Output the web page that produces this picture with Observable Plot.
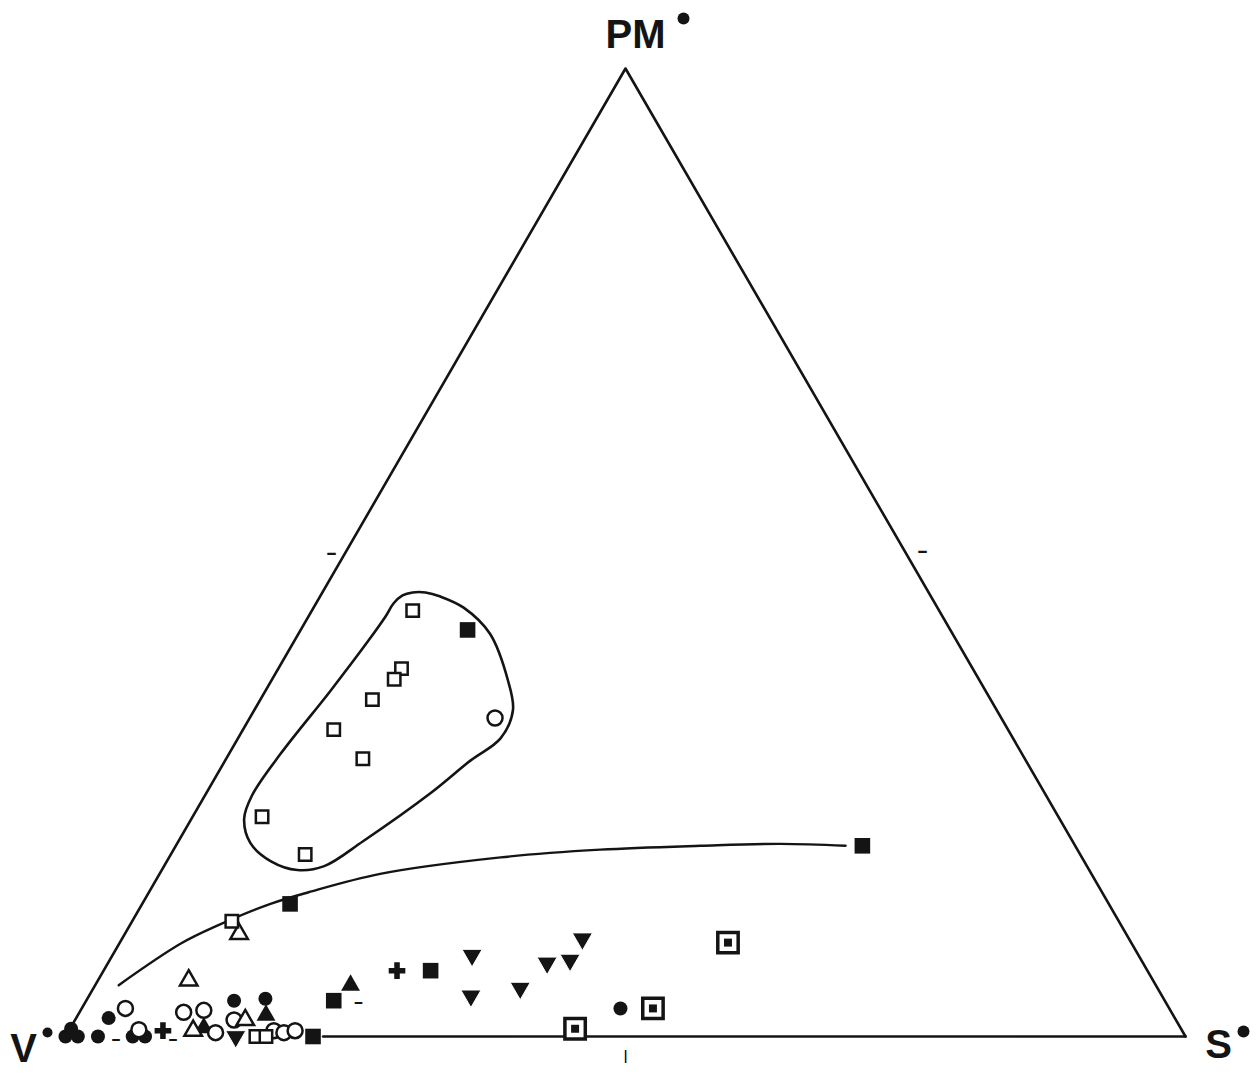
<!DOCTYPE html>
<html><head><meta charset="utf-8">
<script src="https://cdn.jsdelivr.net/npm/d3@7"></script>
<script src="https://cdn.jsdelivr.net/npm/@observablehq/plot@0.6"></script>
<style>body{margin:0;background:#fff}#chart svg{display:block}</style>
</head><body><div id="chart"></div>
<script>
// Ternary compositions, each point is [V, PM, S] in percent
const vertexV = [[100, 0, 0]];
const vertexPM = [[0, 100, 0]];
const vertexS = [[0, 0, 100]];
const vertexLabels = ["V", "PM", "S"];

const openSquares = [
  [47.0, 44.0, 9.0], [51.0, 38.0, 11.0], [52.2, 36.9, 10.9], [55.2, 34.8, 10.0],
  [60.2, 31.7, 8.1], [59.1, 28.7, 12.2], [71.1, 22.7, 6.2], [69.2, 18.8, 12.0],
  [79.2, 11.9, 8.9], [83.0, 0.0, 17.0], [82.1, 0.0, 17.9]
];
const filledSquares = [
  [43.1, 42.0, 14.9], [73.1, 13.7, 13.2], [19.0, 19.7, 61.3],
  [74.2, 3.7, 22.1], [64.0, 6.8, 29.2], [77.9, 0.0, 22.1]
];
const openCircles = [
  [45.2, 32.9, 21.9], [93.2, 2.9, 3.9], [88.2, 2.5, 9.3], [86.3, 2.7, 11.0],
  [86.4, 0.4, 13.2], [84.1, 1.7, 14.2], [81.1, 0.6, 18.3], [80.3, 0.4, 19.3],
  [79.2, 0.6, 20.2], [93.1, 0.7, 6.2]
];
const filledCircles = [
  [100, 0, 0], [98.9, 0, 1.1], [99.1, 0.8, 0.1], [95.2, 1.9, 2.9], [97.1, 0, 2.9],
  [94.0, 0, 6.0], [92.9, 0, 7.1], [83.1, 3.7, 13.2], [80.2, 3.9, 15.9], [49.0, 2.9, 48.1]
];
const openTriangles = [
  [79.2, 10.6, 10.2], [86.1, 5.8, 8.1], [88.3, 0.6, 11.1], [83.1, 1.7, 15.2]
];
const filledTriangles = [
  [87.2, 0.9, 11.9], [81.0, 2.2, 16.8], [71.9, 5.3, 22.8]
];
const invertedTriangles = [
  [84.8, 0, 15.2], [59.5, 8.4, 32.1], [61.7, 4.2, 34.1], [56.9, 5.0, 38.1],
  [53.2, 7.6, 39.2], [51.0, 7.9, 41.1], [48.8, 10.1, 41.1]
];
const crosses = [[91.0, 0.6, 8.4], [67.0, 6.8, 26.2]];
const doubleSquares = [[54.1, 0.8, 45.1], [46.1, 2.9, 51.0], [36.0, 9.7, 54.3]];
const dashes = [[95.5, 0, 4.5], [90.4, 0, 9.6], [71.9, 3.9, 24.2]];

// drawn lines
const baseEdge = [[77, 0, 23], [0, 0, 100]];
const trendCurve = [
  [92.6, 5.3, 2.1], [84.9, 9.6, 5.5], [80.6, 11.5, 7.9], [74.85, 13.7, 11.45],
  [70.85, 14.9, 14.25], [63.5, 16.8, 19.7], [51.9, 18.5, 29.6], [42.6, 19.3, 38.1],
  [33.45, 19.7, 46.85], [26.2, 19.9, 53.9], [20.5, 19.7, 59.8]
];
const envelope = [
  [47.13, 45.56, 7.31], [46.08, 45.87, 8.05], [44.92, 45.87, 9.21], [43.8, 45.45, 10.75],
  [42.3, 44.3, 13.4], [41.2, 41.6, 17.1],
  [42.1, 36.8, 21.1], [43.2, 33.7, 23.1], [45.76, 30.8, 23.44], [49.6, 28.5, 21.9],
  [54.9, 25.1, 20.0], [63.3, 20.2, 16.5], [68.2, 17.6, 14.3], [70.7, 17.2, 12.1],
  [72.7, 18.1, 9.3], [73.5, 20.0, 6.5], [72.8, 22.5, 4.7], [70.9, 24.9, 4.2],
  [66.2, 29.2, 4.6], [58.5, 35.7, 5.8], [52.5, 40.9, 6.6], [49.73, 43.39, 6.88],
  [48.35, 44.73, 6.92]
];
const midTicks = [[50, 50, 0], [0, 50, 50], [50, 0, 50]];

// ternary projection: x = S + PM/2, y = PM
const X = d => d[2] + d[1] / 2;
const Y = d => d[1];
const INK = "#141414";
const lab = {fontFamily: "Liberation Sans, Arial, sans-serif", fontWeight: "bold", fontSize: 40, fill: INK, textAnchor: "middle", lineAnchor: "middle"};

const chart = Plot.plot({
  width: 1260,
  height: 1075,
  marginLeft: 65,
  marginRight: 75,
  marginTop: 68,
  marginBottom: 39,
  x: {domain: [0, 100], axis: null},
  y: {domain: [0, 100], axis: null},
  style: {background: "white", overflow: "visible"},
  marks: [
    Plot.line([vertexV[0], vertexPM[0], vertexS[0]], {x: X, y: Y, stroke: INK, strokeWidth: 2.6}),
    Plot.line(baseEdge, {x: X, y: Y, stroke: INK, strokeWidth: 2.6}),
    Plot.line(envelope, {x: X, y: Y, curve: "catmull-rom-closed", stroke: INK, strokeWidth: 2.6}),
    Plot.line(trendCurve, {x: X, y: Y, curve: "catmull-rom", stroke: INK, strokeWidth: 2.4}),
    Plot.text([midTicks[0]], {x: X, y: Y, text: () => "–", dx: -14, dy: 0, fontSize: 20, fontWeight: "bold", fill: INK}),
    Plot.text([midTicks[1]], {x: X, y: Y, text: () => "–", dx: 17, dy: -2, fontSize: 20, fontWeight: "bold", fill: INK}),
    Plot.text([midTicks[2]], {x: X, y: Y, text: () => "|", dx: 0, dy: 19, fontSize: 13, fontWeight: "bold", fill: "#000"}),
    Plot.text(dashes, {x: X, y: Y, text: () => "–", dy: 3, fontSize: 18, fontWeight: "bold", fill: INK}),
    Plot.dot(filledCircles, {x: X, y: Y, r: 7, fill: INK}),
    Plot.dot(invertedTriangles, {x: X, y: Y, symbol: "triangle", rotate: 180, r: 7.5, fill: INK, stroke: "white", strokeWidth: 1}),
    Plot.dot(filledTriangles, {x: X, y: Y, symbol: "triangle", r: 7, fill: INK}),
    Plot.dot(filledSquares, {x: X, y: Y, symbol: "square", r: 8.8, fill: INK}),
    Plot.dot(crosses, {x: X, y: Y, symbol: "cross", r: 7, fill: INK}),
    Plot.dot(openCircles, {x: X, y: Y, r: 7.5, fill: "white", stroke: INK, strokeWidth: 2.5}),
    Plot.dot(openTriangles, {x: X, y: Y, symbol: "triangle", r: 6.5, fill: "white", stroke: INK, strokeWidth: 2.5}),
    Plot.dot(openSquares, {x: X, y: Y, symbol: "square", r: 7, fill: "white", stroke: INK, strokeWidth: 2.5}),
    Plot.dot(doubleSquares, {x: X, y: Y, symbol: "square", r: 11.5, fill: "white", stroke: INK, strokeWidth: 3.5}),
    Plot.dot(doubleSquares, {x: X, y: Y, symbol: "square", r: 4.5, fill: INK}),
    Plot.text(vertexV, {x: X, y: Y, text: () => vertexLabels[0], dx: -42, dy: 13, ...lab}),
    Plot.text(vertexPM, {x: X, y: Y, text: () => vertexLabels[1], dx: 10, dy: -33, ...lab}),
    Plot.text(vertexS, {x: X, y: Y, text: () => vertexLabels[2], dx: 33, dy: 9, ...lab}),
    Plot.dot(vertexV, {x: X, y: Y, r: 5, dx: -18, dy: -4, fill: INK}),
    Plot.dot(vertexPM, {x: X, y: Y, r: 6, dx: 58, dy: -50, fill: INK}),
    Plot.dot(vertexS, {x: X, y: Y, r: 6, dx: 58, dy: -5, fill: INK})
  ]
});
document.getElementById("chart").appendChild(chart);
</script>
</body></html>
